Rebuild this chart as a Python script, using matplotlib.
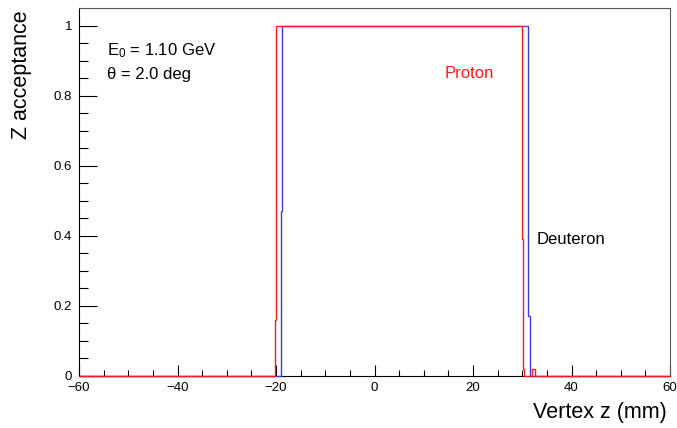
import matplotlib
matplotlib.use("Agg")
from matplotlib import pyplot as plt
import matplotlib.ticker as mtick

plt.rcParams['font.family'] = ['Liberation Sans', 'DejaVu Sans']
plt.rcParams['mathtext.fontset'] = 'custom'
plt.rcParams['mathtext.rm'] = 'Liberation Sans'
plt.rcParams['mathtext.it'] = 'Liberation Sans:italic'

# acceptance histograms (bin edges in mm, bin contents)
proton_edges = [-60, -20.3, -20.1, -19.9, 29.95, 30.15, 30.35, 31.9, 32.6, 60]
proton_vals = [0, 0.16, 0.98, 1.0, 0.39, 0.02, 0, 0.02, 0]
deut_edges = [-60, -19.0, -18.75, 31.2, 31.55, 60]
deut_vals = [0, 0.47, 1.0, 0.17, 0]

W, H = 677, 428
fig = plt.figure(figsize=(W/100., H/100.), dpi=100)
ax = fig.add_axes([79/W, 1-376/H, (670-79)/W, (376-8)/H])

ax.stairs(deut_vals, deut_edges, color='#3c3cdc', lw=1.0, clip_on=False, zorder=3)
ax.stairs(proton_vals, proton_edges, color='#ff1a1a', lw=1.0, clip_on=False, zorder=4)

ax.set_xlim(-60, 60)
ax.set_ylim(0, 1.051)

ax.xaxis.set_major_locator(mtick.MultipleLocator(20))
ax.xaxis.set_minor_locator(mtick.MultipleLocator(5))
ax.yaxis.set_major_locator(mtick.FixedLocator([0, 0.2, 0.4, 0.6, 0.8, 1.0]))
ax.yaxis.set_minor_locator(mtick.FixedLocator([i*0.05 for i in range(21)]))
ax.yaxis.set_major_formatter(mtick.FormatStrFormatter('%g'))

ax.tick_params(axis='both', which='both', direction='in', top=False, right=False,
               labelsize=9.5, width=0.8, color='black')
ax.tick_params(axis='x', which='major', length=8, pad=4)
ax.tick_params(axis='x', which='minor', length=4)
ax.tick_params(axis='y', which='major', length=13, pad=5)
ax.tick_params(axis='y', which='minor', length=6.5)
for s in ax.spines.values():
    s.set_linewidth(0.8)
ax.spines['top'].set_color('#555555')
ax.spines['right'].set_color('#555555')

# text
ax.text(-54.3, 0.917, r'E$_0$ = 1.10 GeV', fontsize=12, va='baseline')
ax.text(-54.3, 0.849, u'\u03b8 = 2.0 deg', fontsize=12, va='baseline')
ax.text(14.3, 0.851, 'Proton', fontsize=12, color='#ff1a1a', va='baseline')
ax.text(33.0, 0.377, 'Deuteron', fontsize=12, va='baseline')

# axis titles (ROOT style: aligned to the end of the axis)
fig.text(22/W, 1-10/H, 'Z acceptance', rotation=90, fontsize=15.5, ha='center', va='top')
fig.text(667/W, (H-418)/H, 'Vertex z (mm)', fontsize=15.5, ha='right', va='baseline')

fig.savefig('out.png', dpi=100)
